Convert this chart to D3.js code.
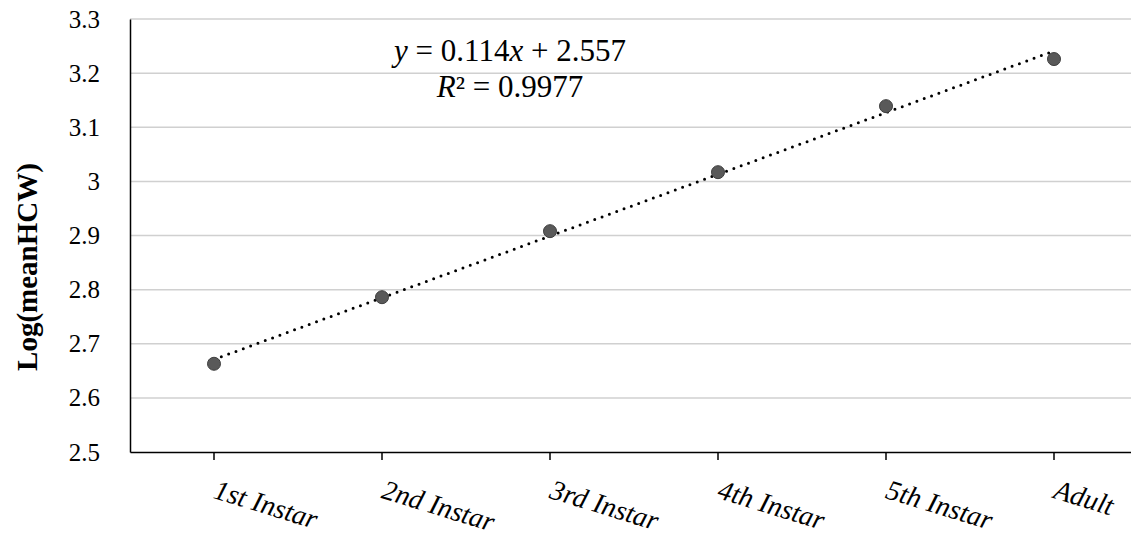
<!DOCTYPE html>
<html>
<head>
<meta charset="utf-8">
<script src="https://cdn.jsdelivr.net/npm/d3@7"></script>
<style>
  body { margin: 0; background: #fff; }
</style>
</head>
<body>
<div id="chart"></div>
<script>
// data
var stages = ['1st Instar', '2nd Instar', '3rd Instar', '4th Instar', '5th Instar', 'Adult'];
var logHCW = [2.663, 2.786, 2.908, 3.017, 3.139, 3.226];
var yTicks = [2.5, 2.6, 2.7, 2.8, 2.9, 3, 3.1, 3.2, 3.3];
var slope = 0.114, intercept = 2.557, r2 = '0.9977';

var W = 1131, H = 546;
var mLeft = 130, mTop = 19, mBottom = 452;
var serif = "Times New Roman, Liberation Serif, DejaVu Serif, serif";

var svg = d3.select('#chart')
  .append('svg')
  .attr('width', W)
  .attr('height', H)
  .style('font-family', serif);

var x = d3.scaleBand()
  .domain(stages)
  .range([mLeft, mLeft + 6 * 168])
  .padding(0);

var y = d3.scaleLinear()
  .domain([2.5, 3.3])
  .range([mBottom, mTop]);

// x position for trend index 1..6
var xi = d3.scaleLinear()
  .domain([1, 6])
  .range([x(stages[0]) + x.bandwidth() / 2, x(stages[5]) + x.bandwidth() / 2]);

// gridlines
svg.append('g')
  .selectAll('line')
  .data(yTicks.filter(function(d){ return d > 2.5; }))
  .enter()
  .append('line')
  .attr('x1', mLeft)
  .attr('x2', W)
  .attr('y1', function(d){ return y(d); })
  .attr('y2', function(d){ return y(d); })
  .attr('stroke', '#d0d0d0')
  .attr('stroke-width', 1.5);

// y axis
var yAxis = svg.append('g')
  .attr('transform', 'translate(' + mLeft + ',0)')
  .call(d3.axisLeft(y).tickValues(yTicks).tickSize(0).tickPadding(30)
    .tickFormat(function(d){ return String(+d.toFixed(1)); }));
yAxis.attr('font-family', null).attr('font-size', 25);
yAxis.select('.domain').attr('stroke', '#000').attr('stroke-width', 1.5);
yAxis.selectAll('text').attr('fill', '#000');

// x axis
var xAxis = svg.append('g')
  .attr('transform', 'translate(0,' + mBottom + ')')
  .call(d3.axisBottom(x).tickSize(8).tickSizeOuter(0).tickFormat(''));
xAxis.attr('font-family', null).attr('font-size', 28);
xAxis.select('.domain').attr('stroke', '#000').attr('stroke-width', 1.5);
xAxis.selectAll('.tick line').attr('stroke', '#000').attr('stroke-width', 1.5);

xAxis.selectAll('.tick')
  .append('text')
  .text(function(d){ return d; })
  .attr('transform', 'translate(4,27) rotate(17)')
  .attr('text-anchor', 'start')
  .attr('dy', '0.7em')
  .attr('font-style', 'italic')
  .attr('fill', '#000');

// y label
svg.append('text')
  .text('Log(meanHCW)')
  .attr('transform', 'translate(37,267) rotate(-90)')
  .attr('text-anchor', 'middle')
  .attr('font-size', 29)
  .attr('font-weight', 'bold')
  .attr('fill', '#000');

// trendline
svg.append('line')
  .attr('x1', xi(1))
  .attr('y1', y(slope * 1 + intercept))
  .attr('x2', xi(6))
  .attr('y2', y(slope * 6 + intercept))
  .attr('stroke', '#000')
  .attr('stroke-width', 3)
  .attr('stroke-linecap', 'round')
  .attr('stroke-dasharray', '0,7.8');

// points
svg.append('g')
  .selectAll('circle')
  .data(stages)
  .enter()
  .append('circle')
  .attr('cx', function(d){ return x(d) + x.bandwidth() / 2; })
  .attr('cy', function(d, i){ return y(logHCW[i]); })
  .attr('r', 6.5)
  .attr('fill', '#595959')
  .attr('stroke', '#3f3f3f')
  .attr('stroke-width', 1);

// equation
var eq = svg.append('text')
  .attr('x', 510)
  .attr('y', 61)
  .attr('text-anchor', 'middle')
  .attr('font-size', 31)
  .attr('fill', '#000');
eq.append('tspan').attr('font-style', 'italic').text('y');
eq.append('tspan').text(' = ' + slope);
eq.append('tspan').attr('font-style', 'italic').text('x');
eq.append('tspan').text(' + ' + intercept);

var rr = svg.append('text')
  .attr('x', 510)
  .attr('y', 97)
  .attr('text-anchor', 'middle')
  .attr('font-size', 31)
  .attr('fill', '#000');
rr.append('tspan').attr('font-style', 'italic').text('R');
rr.append('tspan').text('² = ' + r2);
</script>
</body>
</html>
